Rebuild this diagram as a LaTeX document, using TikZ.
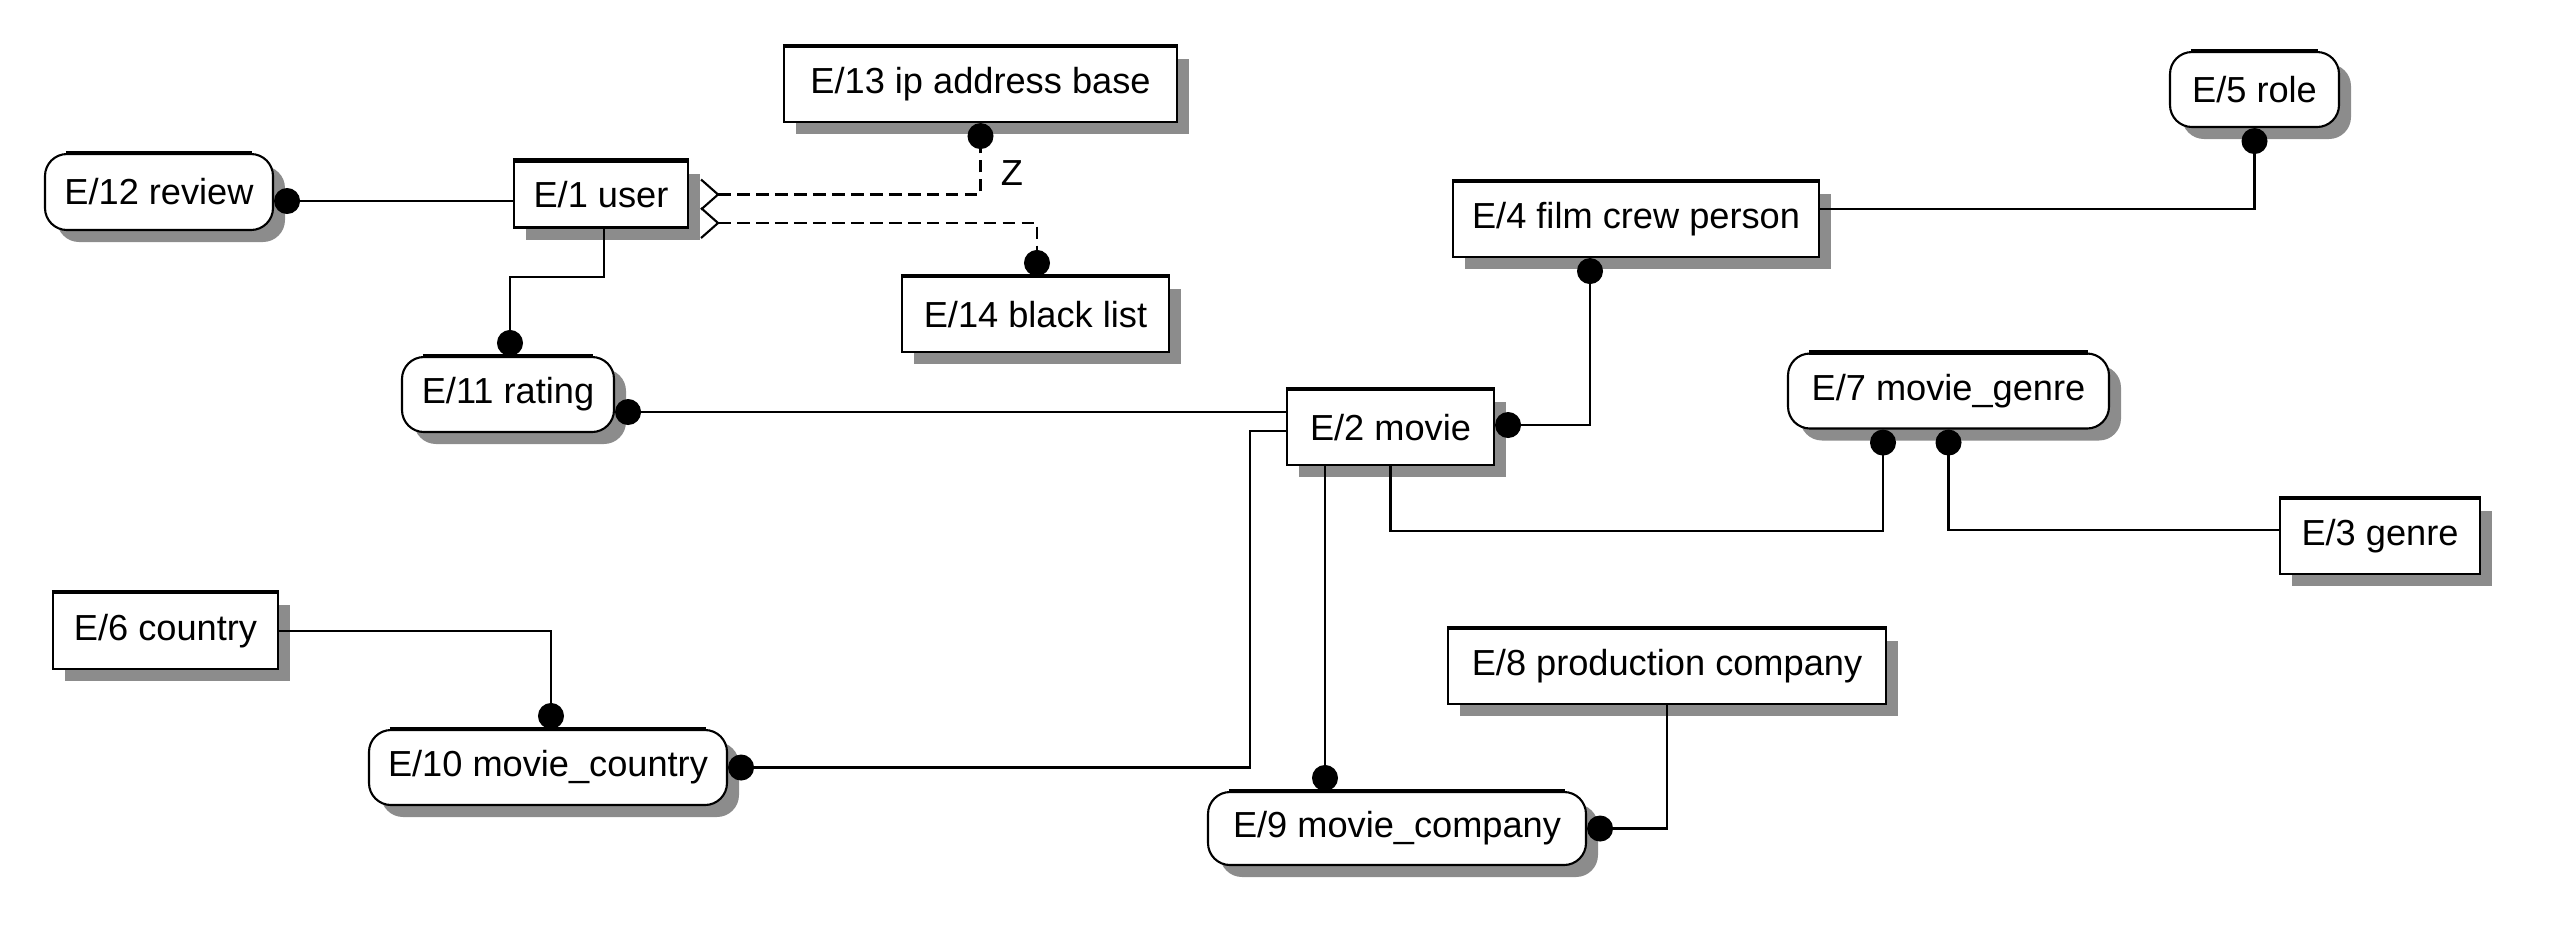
\documentclass[tikz,border=0pt]{standalone}
\usepackage{fontspec}
\setmainfont{Liberation Sans}
\usetikzlibrary{arrows.meta,calc,shadows}
\def\chevron(#1){\draw[link] ($(#1)+(-0.17,0.15)$) -- (#1) -- ($(#1)+(-0.17,-0.15)$);}
\tikzset{
  ent/.style={draw, line width=0.6pt, fill=white, inner sep=0pt, minimum height=0.75cm,
    font=\fontsize{10.3}{12}\selectfont,
    drop shadow={shadow xshift=0.12cm, shadow yshift=-0.12cm, fill=black!45, opacity=1}},
  assoc/.style={ent, rounded corners=0.22cm},
  link/.style={line width=0.6pt},
  opt/.style={link, dash pattern=on 3.6pt off 1.8pt},
  dotend/.style={-{Circle[length=2.6mm]}},
  dotstart/.style={{Circle[length=2.6mm]}-},
  dotboth/.style={{Circle[length=2.6mm]}-{Circle[length=2.6mm]}},
}

\begin{document}
\begin{tikzpicture}
		%%%%% START %%%%%
		\useasboundingbox (0,0) rectangle (25.6,-9.34);
		
		\node[ent, minimum width=3.93cm] (ipbase) at (9.805,-0.845) {E/13 ip address base};
		\node[assoc, minimum width=2.28cm, minimum height=0.76cm] (review) at (1.59,-1.92) {E/12 review};
		\node[ent, minimum width=1.74cm, minimum height=0.66cm] (user) at (6.01,-1.945) {E/1 user};
		\node[ent, minimum width=2.67cm] (blist) at (10.355,-3.145) {E/14 black list};
		\node[assoc, minimum width=2.12cm] (rating) at (5.08,-3.945) {E/11 rating};
		
		\node[ent, minimum width=3.66cm] (crew) at (16.36,-2.195) {E/4 film crew person};
		\node[assoc, minimum width=1.69cm] (role) at (22.545,-0.895) {E/5 role};
		\node[ent, minimum width=2.07cm] (movie) at (13.905,-4.275) {E/2 movie};
		\node[assoc, minimum width=3.21cm] (mgenre) at (19.485,-3.91) {E/7 movie\_genre};
		\node[ent, minimum width=2.00cm] (genre) at (23.80,-5.365) {E/3 genre};
		
		\node[ent, minimum width=2.25cm, minimum height=0.76cm] (country) at (1.655,-6.31) {E/6 country};
		\node[assoc, minimum width=3.58cm] (mcountry) at (5.48,-7.675) {E/10 movie\_country};
		\node[ent, minimum width=4.38cm] (pcompany) at (16.67,-6.665) {E/8 production company};
		\node[assoc, minimum width=3.78cm, minimum height=0.73cm] (mcompany) at (13.97,-8.285) {E/9 movie\_company};
		
		% thick top edges
		\foreach \n in {ipbase,user,blist,crew,movie,genre,country,pcompany}
			\draw[line width=1.3pt] (\n.north west) -- (\n.north east);
		\foreach \n in {review,rating,role,mgenre,mcountry,mcompany}
			\draw[line width=1.3pt] ([xshift=0.22cm]\n.north west) -- ([xshift=-0.22cm]\n.north east);
		
		% user side
		\coordinate (rv) at ([yshift=-0.09cm]review.east);
		\draw[link, dotstart] (rv) -- (rv -| user.west);
		
		\coordinate (tipA) at ([xshift=0.29cm]user.east);
		\coordinate (tipB) at ([xshift=0.29cm,yshift=-0.285cm]user.east);
		\chevron(tipA)
		\chevron(tipB)
		\draw[opt, dotend] (tipA) -| (ipbase.south);
		\draw[opt, dotend] (tipB) -| ([xshift=0.015cm]blist.north);
		\node[font=\fontsize{10.3}{12}\selectfont] (zmark) at (10.12,-1.73) {Z};
		
		\draw[link, dotend] ([xshift=0.03cm]user.south) -- ++(0,-0.48) -| ([xshift=0.02cm]rating.north);
		
		\coordinate (rm) at ([yshift=0.155cm]movie.west);
		\draw[link, dotstart] (rating.east |- rm) -- (rm);
		
		% movie side
		\draw[link, dotboth] ([yshift=0.025cm]movie.east) -| ([xshift=-0.46cm]crew.south);
		\draw[link, dotend] ([yshift=0.105cm]crew.east) -| (role.south);
		
		\draw[link, dotend] (movie.south) -- ++(0,-0.65) -| ([xshift=-0.655cm]mgenre.south);
		\draw[link, dotend] ([yshift=0.065cm]genre.west) -| (mgenre.south);
		
		\draw[link, dotend] ([yshift=-0.035cm]movie.west) -- ++(-0.36,0) |- (mcountry.east);
		\draw[link, dotend] (country.east) -| ([xshift=0.03cm]mcountry.north);
		
		\coordinate (mc) at ([xshift=-0.655cm]movie.south);
		\draw[link, dotend] (mc) -- (mc |- mcompany.north);
		\draw[link, dotend] (pcompany.south) |- (mcompany.east);
		
		%%%%% END %%%%%
\end{tikzpicture}
\end{document}
